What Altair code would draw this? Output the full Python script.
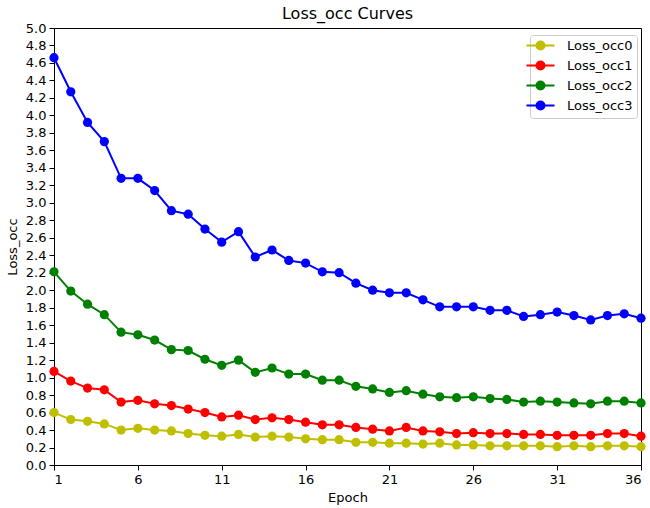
import altair as alt
import pandas as pd

epochs = list(range(1, 37))

loss_occ0 = [0.60, 0.52, 0.50, 0.47, 0.40, 0.42, 0.40, 0.39, 0.36, 0.34,
             0.33, 0.35, 0.32, 0.33, 0.32, 0.30, 0.29, 0.29, 0.26, 0.26,
             0.25, 0.25, 0.24, 0.25, 0.23, 0.23, 0.22, 0.22, 0.22, 0.22,
             0.21, 0.22, 0.21, 0.22, 0.22, 0.21]
loss_occ1 = [1.07, 0.96, 0.88, 0.86, 0.72, 0.74, 0.70, 0.68, 0.64, 0.60,
             0.55, 0.57, 0.52, 0.54, 0.52, 0.49, 0.46, 0.46, 0.43, 0.41,
             0.39, 0.43, 0.39, 0.38, 0.36, 0.37, 0.36, 0.36, 0.35, 0.35,
             0.34, 0.34, 0.34, 0.36, 0.36, 0.33]
loss_occ2 = [2.21, 1.99, 1.84, 1.72, 1.52, 1.49, 1.43, 1.32, 1.31, 1.21,
             1.14, 1.20, 1.06, 1.11, 1.04, 1.04, 0.97, 0.97, 0.90, 0.87,
             0.83, 0.85, 0.81, 0.78, 0.77, 0.78, 0.76, 0.75, 0.72, 0.73,
             0.72, 0.71, 0.70, 0.73, 0.73, 0.71]
loss_occ3 = [4.66, 4.27, 3.92, 3.70, 3.28, 3.28, 3.14, 2.91, 2.87, 2.70,
             2.55, 2.67, 2.38, 2.46, 2.34, 2.31, 2.21, 2.20, 2.08, 2.00,
             1.97, 1.97, 1.89, 1.81, 1.81, 1.81, 1.77, 1.77, 1.70, 1.72,
             1.75, 1.71, 1.66, 1.71, 1.73, 1.68]

series_names = ["Loss_occ0", "Loss_occ1", "Loss_occ2", "Loss_occ3"]
series_colors = ["#bfbf00", "#ff0000", "#008000", "#0000ff"]

x_ticks = [1, 6, 11, 16, 21, 26, 31, 36]
y_ticks = [0.0, 0.2, 0.4, 0.6, 0.8, 1.0, 1.2, 1.4, 1.6, 1.8, 2.0, 2.2, 2.4,
           2.6, 2.8, 3.0, 3.2, 3.4, 3.6, 3.8, 4.0, 4.2, 4.4, 4.6, 4.8, 5.0]

rows = []
for name, vals in zip(series_names, [loss_occ0, loss_occ1, loss_occ2, loss_occ3]):
    for e, v in zip(epochs, vals):
        rows.append({"Epoch": e, "Loss_occ": v, "series": name})
df = pd.DataFrame(rows)

FONT = "DejaVu Sans"

# line segment with a dot in the middle (scaled by sqrt(size)/2 = 5 px per unit)
legend_symbol = ("M-2.8,0L2.8,0M-0.8,0A0.8,0.8 0 1 1 0.8,0"
                 "A0.8,0.8 0 1 1 -0.8,0Z")

color = alt.Color(
    "series:N",
    scale=alt.Scale(domain=series_names, range=series_colors),
    legend=alt.Legend(
        title=None,
        orient="none",
        legendX=476,
        legendY=7,
        symbolType=legend_symbol,
        symbolSize=100,
        symbolStrokeWidth=2,
        labelFontSize=13,
        labelFont=FONT,
        labelColor="black",
        strokeColor="#cccccc",
        fillColor="white",
        padding=4,
        cornerRadius=3,
        rowPadding=3,
        labelOffset=20,
    ),
)

x = alt.X(
    "Epoch:Q",
    scale=alt.Scale(domain=[1, 36], nice=False, zero=False),
    axis=alt.Axis(values=x_ticks, title="Epoch", format="d"),
)
y = alt.Y(
    "Loss_occ:Q",
    scale=alt.Scale(domain=[0, 5], nice=False),
    axis=alt.Axis(values=y_ticks, title="Loss_occ", format=".1f"),
)

base = alt.Chart(df).encode(x=x, y=y, color=color, order="Epoch:Q")
lines = base.mark_line(strokeWidth=2)
points = base.mark_point(filled=True, size=85, opacity=1)

chart = (
    alt.layer(lines, points)
    .properties(
        width=587,
        height=437,
        title=alt.TitleParams("Loss_occ Curves", fontSize=16, font=FONT,
                              fontWeight="normal", color="black", offset=0),
        autosize=alt.AutoSizeParams(type="none"),
        padding={"left": 54, "top": 28, "right": 9, "bottom": 43},
    )
    .configure_view(stroke="black", strokeWidth=1)
    .configure_axis(
        grid=False,
        domainColor="black",
        tickColor="black",
        tickSize=5,
        labelColor="black",
        labelFontSize=13,
        labelFont=FONT,
        titleFont=FONT,
        titleFontSize=13,
        titleFontWeight="normal",
        titleColor="black",
        labelPadding=3,
    )
    .configure_axisX(titlePadding=5)
    .configure_axisY(titlePadding=6)
)

chart.save("out.html", embed_options={"renderer": "svg", "actions": False})
